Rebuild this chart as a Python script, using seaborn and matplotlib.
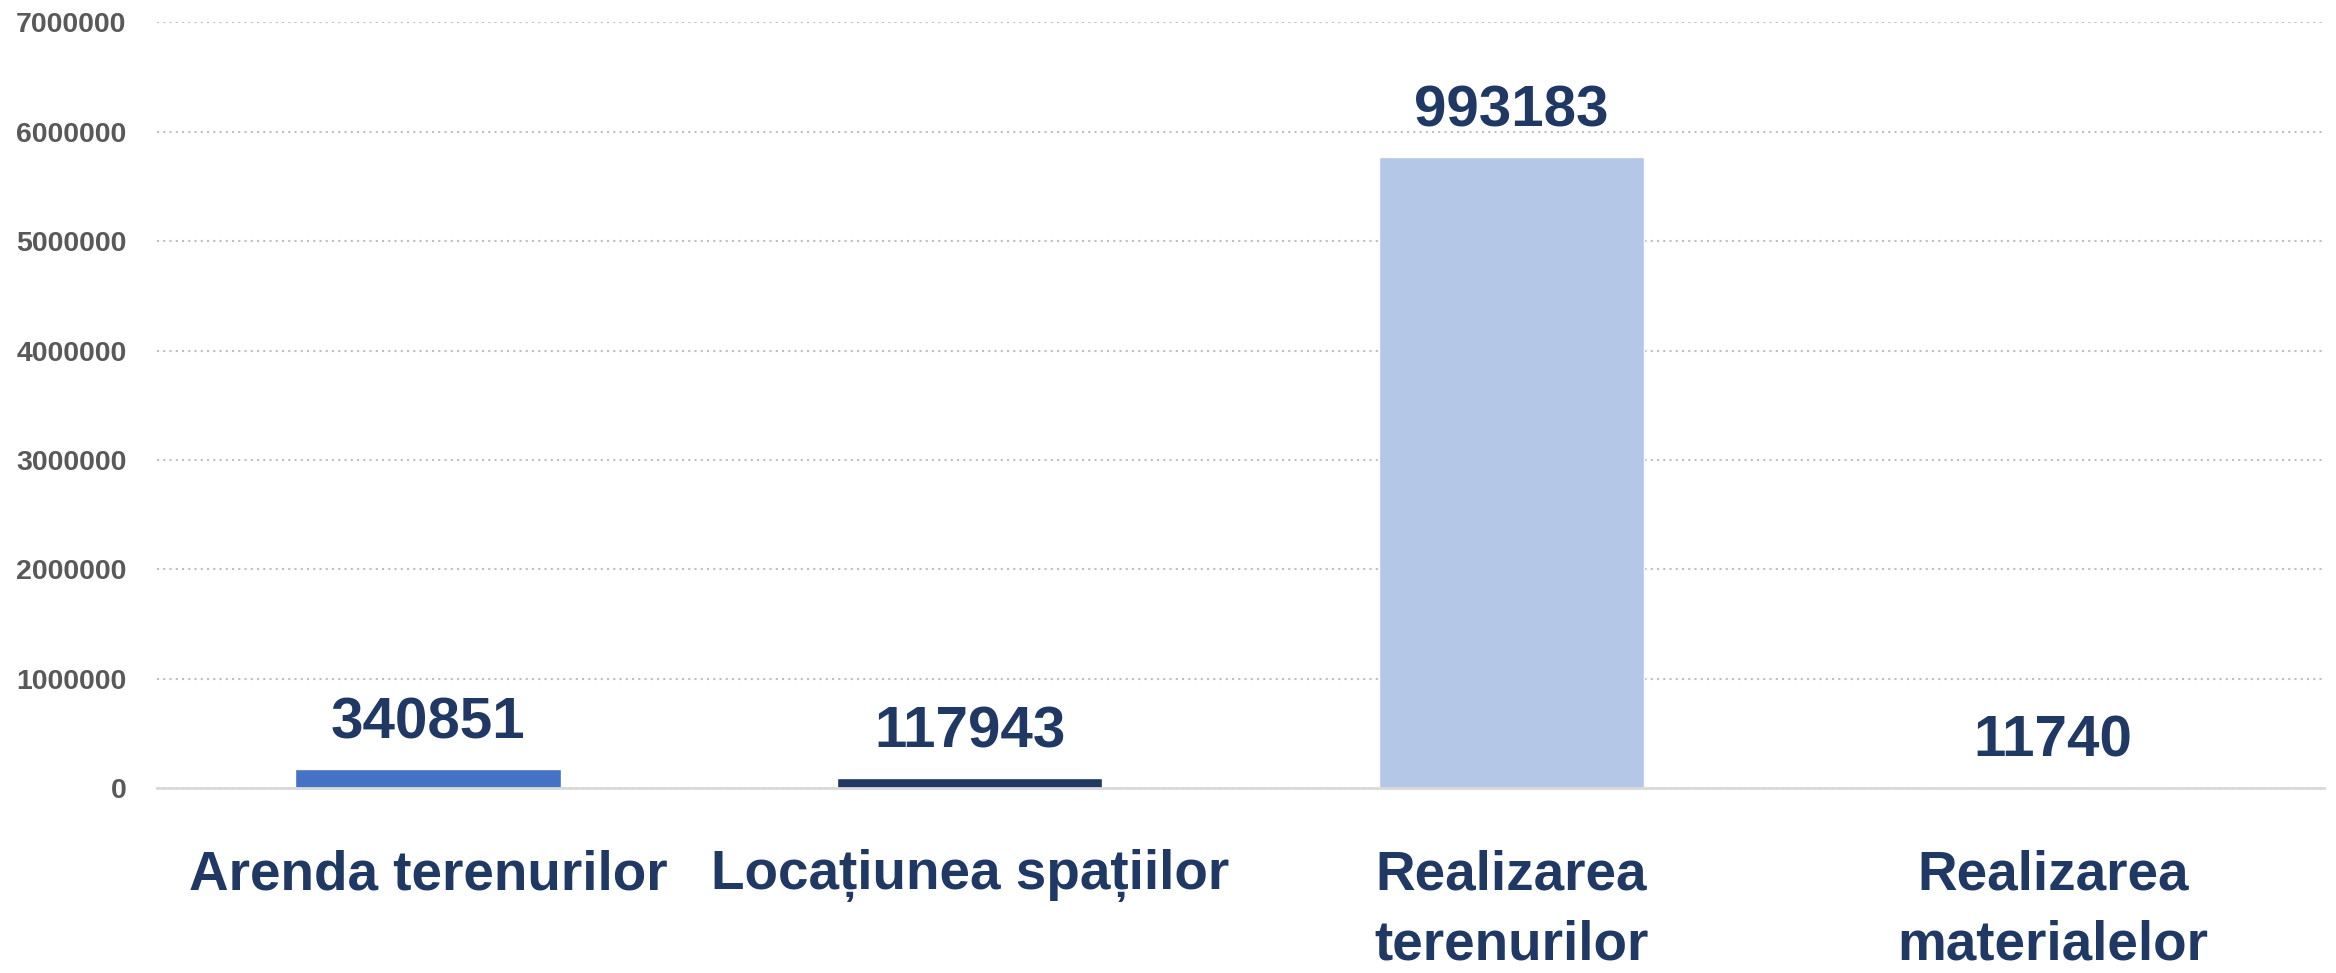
import pandas as pd
import matplotlib
matplotlib.use('Agg')
import matplotlib.pyplot as plt
import seaborn as sns

#-----------------
## data
categories = ['Arenda terenurilor', 'Locațiunea spațiilor',
              'Realizarea\nterenurilor', 'Realizarea\nmaterialelor']
bar_values = [175000, 93000, 5770000, 11740]
value_labels = ['340851', '117943', '993183', '11740']
y_ticks = [0, 1000000, 2000000, 3000000, 4000000, 5000000, 6000000, 7000000]
colors = ['#4472C4', '#203864', '#B4C7E7', '#8FAADC']

df = pd.DataFrame({'cat': categories, 'val': bar_values})

sns.set_style('white')
plt.rcParams['font.family'] = ['Liberation Sans', 'DejaVu Sans']

fig = plt.figure(figsize=(23.36, 9.73), dpi=100)
ax = fig.add_axes([0.0672, 0.190, 0.9277, 0.787])

sns.barplot(data=df, x='cat', y='val', hue='cat', palette=colors,
            width=0.49, legend=False, ax=ax, saturation=1)

# value labels above bars
for i, (v, lab) in enumerate(zip(bar_values, value_labels)):
    ax.annotate(lab, (i, v), xytext=(0, 22), textcoords='offset points',
                ha='center', va='baseline', fontsize=42,
                fontweight='bold', color='#203864')

ax.set_ylim(0, 7000000)
ax.set_xlim(-0.5, 3.5)
ax.set_yticks(y_ticks)
ax.set_yticklabels([str(t) for t in y_ticks], fontsize=20.5,
                   fontweight='bold', color='#595959')
ax.yaxis.grid(True, linestyle=(0, (1, 2)), color='#BFBFBF', linewidth=1.5)
ax.set_axisbelow(True)

ax.set_xticks(range(len(categories)))
ax.set_xticklabels(categories, fontsize=39.5, fontweight='bold',
                   color='#203864', linespacing=1.45)
ax.tick_params(axis='x', which='major', length=0, pad=44)
ax.tick_params(axis='y', length=0, pad=22)
ax.set_xticks([-0.5, 0.5, 1.5, 2.5, 3.5], minor=True)
ax.tick_params(axis='x', which='minor', length=13, width=1.5,
               color='#D9D9D9', direction='out')

for s in ['left', 'right', 'top']:
    ax.spines[s].set_visible(False)
ax.spines['bottom'].set_color('#D9D9D9')
ax.spines['bottom'].set_linewidth(2)

ax.set_xlabel('')
ax.set_ylabel('')

fig.savefig('out.png', dpi=100)
